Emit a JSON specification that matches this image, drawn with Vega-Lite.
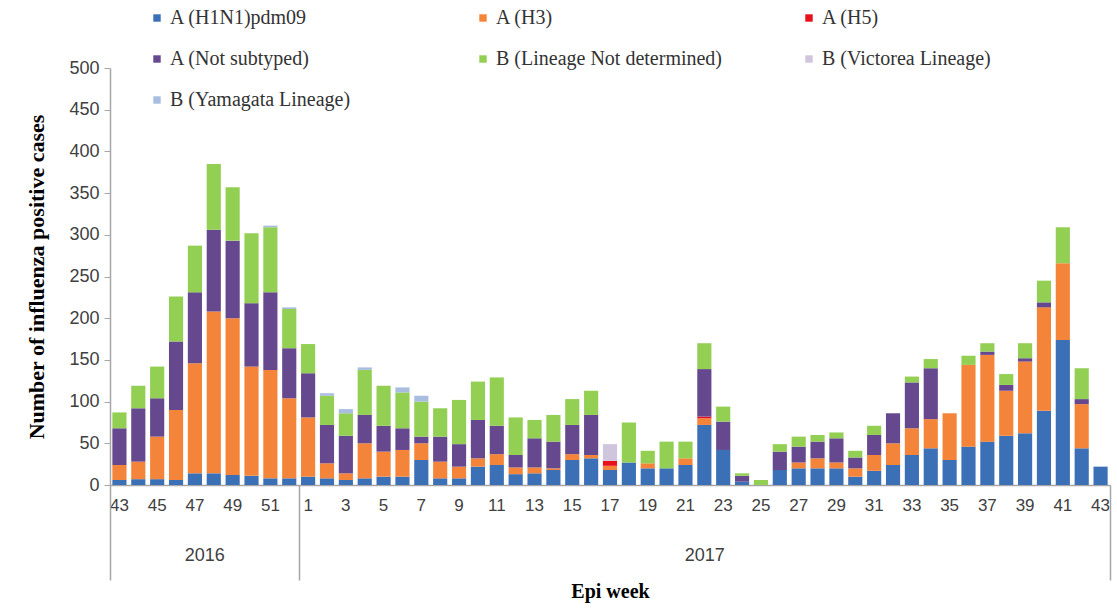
{
  "$schema": "https://vega.github.io/schema/vega-lite/v6.json",
  "width": 1000,
  "height": 417,
  "autosize": {"type": "none"},
  "padding": {"left": 110, "top": 68, "right": 7, "bottom": 124},
  "background": "white",
  "config": {"view": {"stroke": null}, "font": "Liberation Sans"},
  "datasets": {
    "weekly": [
      {"wk":"2016-W43","t":"A (H1N1)pdm09","n":6},{"wk":"2016-W43","t":"A (H3)","n":18},{"wk":"2016-W43","t":"A (Not subtyped)","n":44},{"wk":"2016-W43","t":"B (Lineage Not determined)","n":19},
      {"wk":"2016-W44","t":"A (H1N1)pdm09","n":7},{"wk":"2016-W44","t":"A (H3)","n":21},{"wk":"2016-W44","t":"A (Not subtyped)","n":64},{"wk":"2016-W44","t":"B (Lineage Not determined)","n":27},
      {"wk":"2016-W45","t":"A (H1N1)pdm09","n":7},{"wk":"2016-W45","t":"A (H3)","n":51},{"wk":"2016-W45","t":"A (Not subtyped)","n":46},{"wk":"2016-W45","t":"B (Lineage Not determined)","n":38},
      {"wk":"2016-W46","t":"A (H1N1)pdm09","n":6},{"wk":"2016-W46","t":"A (H3)","n":84},{"wk":"2016-W46","t":"A (Not subtyped)","n":82},{"wk":"2016-W46","t":"B (Lineage Not determined)","n":54},
      {"wk":"2016-W47","t":"A (H1N1)pdm09","n":14},{"wk":"2016-W47","t":"A (H3)","n":132},{"wk":"2016-W47","t":"A (Not subtyped)","n":85},{"wk":"2016-W47","t":"B (Lineage Not determined)","n":56},
      {"wk":"2016-W48","t":"A (H1N1)pdm09","n":14},{"wk":"2016-W48","t":"A (H3)","n":194},{"wk":"2016-W48","t":"A (Not subtyped)","n":98},{"wk":"2016-W48","t":"B (Lineage Not determined)","n":79},
      {"wk":"2016-W49","t":"A (H1N1)pdm09","n":12},{"wk":"2016-W49","t":"A (H3)","n":188},{"wk":"2016-W49","t":"A (Not subtyped)","n":93},{"wk":"2016-W49","t":"B (Lineage Not determined)","n":64},
      {"wk":"2016-W50","t":"A (H1N1)pdm09","n":11},{"wk":"2016-W50","t":"A (H3)","n":131},{"wk":"2016-W50","t":"A (Not subtyped)","n":76},{"wk":"2016-W50","t":"B (Lineage Not determined)","n":84},
      {"wk":"2016-W51","t":"A (H1N1)pdm09","n":8},{"wk":"2016-W51","t":"A (H3)","n":130},{"wk":"2016-W51","t":"A (Not subtyped)","n":93},{"wk":"2016-W51","t":"B (Lineage Not determined)","n":78},{"wk":"2016-W51","t":"B (Yamagata Lineage)","n":2},
      {"wk":"2016-W52","t":"A (H1N1)pdm09","n":8},{"wk":"2016-W52","t":"A (H3)","n":96},{"wk":"2016-W52","t":"A (Not subtyped)","n":60},{"wk":"2016-W52","t":"B (Lineage Not determined)","n":47},{"wk":"2016-W52","t":"B (Yamagata Lineage)","n":2},
      {"wk":"2017-W01","t":"A (H1N1)pdm09","n":10},{"wk":"2017-W01","t":"A (H3)","n":71},{"wk":"2017-W01","t":"A (Not subtyped)","n":53},{"wk":"2017-W01","t":"B (Lineage Not determined)","n":35},
      {"wk":"2017-W02","t":"A (H1N1)pdm09","n":8},{"wk":"2017-W02","t":"A (H3)","n":18},{"wk":"2017-W02","t":"A (Not subtyped)","n":46},{"wk":"2017-W02","t":"B (Lineage Not determined)","n":35},{"wk":"2017-W02","t":"B (Yamagata Lineage)","n":3},
      {"wk":"2017-W03","t":"A (H1N1)pdm09","n":6},{"wk":"2017-W03","t":"A (H3)","n":8},{"wk":"2017-W03","t":"A (Not subtyped)","n":45},{"wk":"2017-W03","t":"B (Lineage Not determined)","n":27},{"wk":"2017-W03","t":"B (Yamagata Lineage)","n":5},
      {"wk":"2017-W04","t":"A (H1N1)pdm09","n":8},{"wk":"2017-W04","t":"A (H3)","n":42},{"wk":"2017-W04","t":"A (Not subtyped)","n":34},{"wk":"2017-W04","t":"B (Lineage Not determined)","n":54},{"wk":"2017-W04","t":"B (Yamagata Lineage)","n":3},
      {"wk":"2017-W05","t":"A (H1N1)pdm09","n":10},{"wk":"2017-W05","t":"A (H3)","n":30},{"wk":"2017-W05","t":"A (Not subtyped)","n":31},{"wk":"2017-W05","t":"B (Lineage Not determined)","n":48},
      {"wk":"2017-W06","t":"A (H1N1)pdm09","n":10},{"wk":"2017-W06","t":"A (H3)","n":32},{"wk":"2017-W06","t":"A (Not subtyped)","n":26},{"wk":"2017-W06","t":"B (Lineage Not determined)","n":43},{"wk":"2017-W06","t":"B (Yamagata Lineage)","n":6},
      {"wk":"2017-W07","t":"A (H1N1)pdm09","n":30},{"wk":"2017-W07","t":"A (H3)","n":20},{"wk":"2017-W07","t":"A (Not subtyped)","n":8},{"wk":"2017-W07","t":"B (Lineage Not determined)","n":42},{"wk":"2017-W07","t":"B (Yamagata Lineage)","n":7},
      {"wk":"2017-W08","t":"A (H1N1)pdm09","n":8},{"wk":"2017-W08","t":"A (H3)","n":20},{"wk":"2017-W08","t":"A (Not subtyped)","n":30},{"wk":"2017-W08","t":"B (Lineage Not determined)","n":34},
      {"wk":"2017-W09","t":"A (H1N1)pdm09","n":8},{"wk":"2017-W09","t":"A (H3)","n":14},{"wk":"2017-W09","t":"A (Not subtyped)","n":27},{"wk":"2017-W09","t":"B (Lineage Not determined)","n":53},
      {"wk":"2017-W10","t":"A (H1N1)pdm09","n":22},{"wk":"2017-W10","t":"A (H3)","n":10},{"wk":"2017-W10","t":"A (Not subtyped)","n":46},{"wk":"2017-W10","t":"B (Lineage Not determined)","n":46},
      {"wk":"2017-W11","t":"A (H1N1)pdm09","n":24},{"wk":"2017-W11","t":"A (H3)","n":13},{"wk":"2017-W11","t":"A (Not subtyped)","n":34},{"wk":"2017-W11","t":"B (Lineage Not determined)","n":58},
      {"wk":"2017-W12","t":"A (H1N1)pdm09","n":13},{"wk":"2017-W12","t":"A (H3)","n":8},{"wk":"2017-W12","t":"A (Not subtyped)","n":15},{"wk":"2017-W12","t":"B (Lineage Not determined)","n":45},
      {"wk":"2017-W13","t":"A (H1N1)pdm09","n":14},{"wk":"2017-W13","t":"A (H3)","n":7},{"wk":"2017-W13","t":"A (Not subtyped)","n":35},{"wk":"2017-W13","t":"B (Lineage Not determined)","n":22},
      {"wk":"2017-W14","t":"A (H1N1)pdm09","n":18},{"wk":"2017-W14","t":"A (H3)","n":2},{"wk":"2017-W14","t":"A (Not subtyped)","n":32},{"wk":"2017-W14","t":"B (Lineage Not determined)","n":32},
      {"wk":"2017-W15","t":"A (H1N1)pdm09","n":30},{"wk":"2017-W15","t":"A (H3)","n":7},{"wk":"2017-W15","t":"A (Not subtyped)","n":35},{"wk":"2017-W15","t":"B (Lineage Not determined)","n":31},
      {"wk":"2017-W16","t":"A (H1N1)pdm09","n":32},{"wk":"2017-W16","t":"A (H3)","n":4},{"wk":"2017-W16","t":"A (Not subtyped)","n":48},{"wk":"2017-W16","t":"B (Lineage Not determined)","n":29},
      {"wk":"2017-W17","t":"A (H1N1)pdm09","n":18},{"wk":"2017-W17","t":"A (H3)","n":5},{"wk":"2017-W17","t":"A (H5)","n":6},{"wk":"2017-W17","t":"B (Victorea Lineage)","n":20},
      {"wk":"2017-W18","t":"A (H1N1)pdm09","n":27},{"wk":"2017-W18","t":"B (Lineage Not determined)","n":48},
      {"wk":"2017-W19","t":"A (H1N1)pdm09","n":20},{"wk":"2017-W19","t":"A (H3)","n":6},{"wk":"2017-W19","t":"B (Lineage Not determined)","n":15},
      {"wk":"2017-W20","t":"A (H1N1)pdm09","n":20},{"wk":"2017-W20","t":"B (Lineage Not determined)","n":32},
      {"wk":"2017-W21","t":"A (H1N1)pdm09","n":24},{"wk":"2017-W21","t":"A (H3)","n":8},{"wk":"2017-W21","t":"B (Lineage Not determined)","n":20},
      {"wk":"2017-W22","t":"A (H1N1)pdm09","n":72},{"wk":"2017-W22","t":"A (H3)","n":8},{"wk":"2017-W22","t":"A (H5)","n":2},{"wk":"2017-W22","t":"A (Not subtyped)","n":57},{"wk":"2017-W22","t":"B (Lineage Not determined)","n":31},
      {"wk":"2017-W23","t":"A (H1N1)pdm09","n":42},{"wk":"2017-W23","t":"A (Not subtyped)","n":34},{"wk":"2017-W23","t":"B (Lineage Not determined)","n":18},
      {"wk":"2017-W24","t":"A (H1N1)pdm09","n":4},{"wk":"2017-W24","t":"A (Not subtyped)","n":7},{"wk":"2017-W24","t":"B (Lineage Not determined)","n":3},
      {"wk":"2017-W25","t":"B (Lineage Not determined)","n":6},
      {"wk":"2017-W26","t":"A (H1N1)pdm09","n":18},{"wk":"2017-W26","t":"A (Not subtyped)","n":22},{"wk":"2017-W26","t":"B (Lineage Not determined)","n":9},
      {"wk":"2017-W27","t":"A (H1N1)pdm09","n":20},{"wk":"2017-W27","t":"A (H3)","n":7},{"wk":"2017-W27","t":"A (Not subtyped)","n":19},{"wk":"2017-W27","t":"B (Lineage Not determined)","n":12},
      {"wk":"2017-W28","t":"A (H1N1)pdm09","n":20},{"wk":"2017-W28","t":"A (H3)","n":12},{"wk":"2017-W28","t":"A (Not subtyped)","n":20},{"wk":"2017-W28","t":"B (Lineage Not determined)","n":8},
      {"wk":"2017-W29","t":"A (H1N1)pdm09","n":20},{"wk":"2017-W29","t":"A (H3)","n":7},{"wk":"2017-W29","t":"A (Not subtyped)","n":29},{"wk":"2017-W29","t":"B (Lineage Not determined)","n":7},
      {"wk":"2017-W30","t":"A (H1N1)pdm09","n":10},{"wk":"2017-W30","t":"A (H3)","n":10},{"wk":"2017-W30","t":"A (Not subtyped)","n":13},{"wk":"2017-W30","t":"B (Lineage Not determined)","n":8},
      {"wk":"2017-W31","t":"A (H1N1)pdm09","n":17},{"wk":"2017-W31","t":"A (H3)","n":19},{"wk":"2017-W31","t":"A (Not subtyped)","n":24},{"wk":"2017-W31","t":"B (Lineage Not determined)","n":11},
      {"wk":"2017-W32","t":"A (H1N1)pdm09","n":24},{"wk":"2017-W32","t":"A (H3)","n":26},{"wk":"2017-W32","t":"A (Not subtyped)","n":36},
      {"wk":"2017-W33","t":"A (H1N1)pdm09","n":36},{"wk":"2017-W33","t":"A (H3)","n":32},{"wk":"2017-W33","t":"A (Not subtyped)","n":55},{"wk":"2017-W33","t":"B (Lineage Not determined)","n":7},
      {"wk":"2017-W34","t":"A (H1N1)pdm09","n":44},{"wk":"2017-W34","t":"A (H3)","n":35},{"wk":"2017-W34","t":"A (Not subtyped)","n":61},{"wk":"2017-W34","t":"B (Lineage Not determined)","n":11},
      {"wk":"2017-W35","t":"A (H1N1)pdm09","n":30},{"wk":"2017-W35","t":"A (H3)","n":56},
      {"wk":"2017-W36","t":"A (H1N1)pdm09","n":46},{"wk":"2017-W36","t":"A (H3)","n":98},{"wk":"2017-W36","t":"B (Lineage Not determined)","n":11},
      {"wk":"2017-W37","t":"A (H1N1)pdm09","n":52},{"wk":"2017-W37","t":"A (H3)","n":104},{"wk":"2017-W37","t":"A (Not subtyped)","n":4},{"wk":"2017-W37","t":"B (Lineage Not determined)","n":10},
      {"wk":"2017-W38","t":"A (H1N1)pdm09","n":59},{"wk":"2017-W38","t":"A (H3)","n":54},{"wk":"2017-W38","t":"A (Not subtyped)","n":7},{"wk":"2017-W38","t":"B (Lineage Not determined)","n":13},
      {"wk":"2017-W39","t":"A (H1N1)pdm09","n":62},{"wk":"2017-W39","t":"A (H3)","n":86},{"wk":"2017-W39","t":"A (Not subtyped)","n":4},{"wk":"2017-W39","t":"B (Lineage Not determined)","n":18},
      {"wk":"2017-W40","t":"A (H1N1)pdm09","n":89},{"wk":"2017-W40","t":"A (H3)","n":124},{"wk":"2017-W40","t":"A (Not subtyped)","n":6},{"wk":"2017-W40","t":"B (Lineage Not determined)","n":26},
      {"wk":"2017-W41","t":"A (H1N1)pdm09","n":174},{"wk":"2017-W41","t":"A (H3)","n":92},{"wk":"2017-W41","t":"B (Lineage Not determined)","n":43},
      {"wk":"2017-W42","t":"A (H1N1)pdm09","n":44},{"wk":"2017-W42","t":"A (H3)","n":53},{"wk":"2017-W42","t":"A (Not subtyped)","n":6},{"wk":"2017-W42","t":"B (Lineage Not determined)","n":37},
      {"wk":"2017-W43","t":"A (H1N1)pdm09","n":22}
    ],
    "years": [
      {"year": "2016", "mid": 5},
      {"year": "2017", "mid": 31.5}
    ]
  },
  "layer": [
    {
      "data": {"name": "weekly"},
      "mark": {"type": "bar"},
      "encoding": {
        "x": {
          "field": "wk", "type": "ordinal", "sort": "ascending",
          "scale": {"paddingInner": 0.25, "paddingOuter": 0.125},
          "axis": {
            "orient": "bottom", "title": null, "labelAngle": 0,
            "labelExpr": "toNumber(substring(datum.value, 6)) % 2 == 1 ? toString(toNumber(substring(datum.value, 6))) : ''",
            "ticks": false, "domainColor": "#a6a6a6", "domainWidth": 1.5,
            "labelFont": "Liberation Sans", "labelFontSize": 17, "labelColor": "#404040",
            "labelPadding": 12, "labelOverlap": false
          }
        },
        "y": {
          "field": "n", "type": "quantitative", "stack": "zero",
          "scale": {"domain": [0, 500], "nice": false},
          "axis": {
            "values": [0, 50, 100, 150, 200, 250, 300, 350, 400, 450, 500],
            "grid": false, "tickSize": 6, "tickColor": "#a6a6a6", "domainColor": "#a6a6a6", "domainWidth": 1.5,
            "labelFont": "Liberation Sans", "labelFontSize": 18, "labelColor": "#404040", "labelPadding": 5,
            "title": "Number of influenza positive cases",
            "titleFont": "Liberation Serif", "titleFontWeight": "bold", "titleFontSize": 22, "titleColor": "#000000",
            "titlePadding": 20
          }
        },
        "color": {
          "field": "t", "type": "nominal",
          "sort": ["A (H1N1)pdm09", "A (H3)", "A (H5)", "A (Not subtyped)", "B (Lineage Not determined)", "B (Victorea Lineage)", "B (Yamagata Lineage)"],
          "scale": {
            "domain": ["A (H1N1)pdm09", "A (H3)", "A (H5)", "A (Not subtyped)", "B (Lineage Not determined)", "B (Victorea Lineage)", "B (Yamagata Lineage)"],
            "range": ["#3b6fb6", "#f4843a", "#e8101a", "#66488f", "#92cf52", "#cfc6de", "#a9bde0"]
          },
          "legend": {
            "title": null, "orient": "none", "legendX": 37, "legendY": -60,
            "direction": "horizontal", "columns": 3, "gridAlign": "all",
            "columnPadding": 76, "rowPadding": 21,
            "symbolType": "square", "symbolSize": 55, "symbolStrokeWidth": 0,
            "labelFont": "Liberation Serif", "labelFontSize": 20, "labelColor": "#333333",
            "labelOffset": 3, "labelLimit": 400
          }
        },
        "order": {"field": "t", "type": "nominal", "sort": "ascending"}
      }
    },
    {
      "data": {"name": "years"},
      "mark": {"type": "point", "opacity": 0},
      "encoding": {
        "x": {
          "field": "mid", "type": "quantitative",
          "scale": {"domain": [0, 53], "nice": false, "zero": false},
          "axis": {
            "orient": "bottom", "values": [0, 10, 53], "title": null,
            "labels": false, "domain": false, "grid": false,
            "tickSize": 95, "tickColor": "#a6a6a6", "tickWidth": 1.5
          }
        }
      }
    },
    {
      "data": {"name": "years"},
      "mark": {"type": "point", "opacity": 0},
      "encoding": {
        "x": {
          "field": "mid", "type": "quantitative",
          "scale": {"domain": [0, 53], "nice": false, "zero": false},
          "axis": {
            "orient": "bottom", "values": [5, 31.5],
            "labelExpr": "datum.value < 20 ? '2016' : '2017'",
            "ticks": false, "domain": false, "grid": false,
            "labelFont": "Liberation Sans", "labelFontSize": 18, "labelColor": "#404040",
            "labelPadding": 61,
            "title": "Epi week", "titleFont": "Liberation Serif", "titleFontWeight": "bold",
            "titleFontSize": 20, "titleColor": "#000000", "titlePadding": 17
          }
        }
      }
    }
  ],
  "resolve": {"scale": {"x": "independent"}, "axis": {"x": "independent"}}
}
